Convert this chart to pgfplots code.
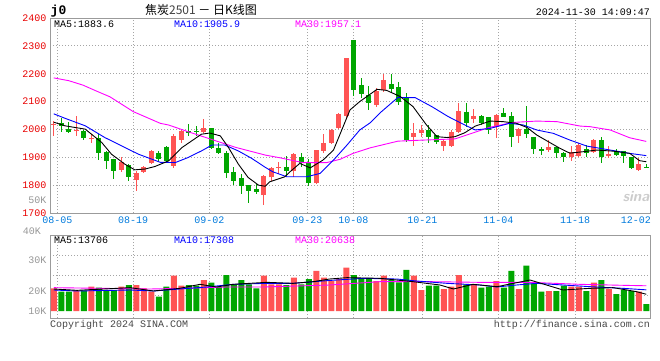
\documentclass[border=0pt]{standalone}
\usepackage{pgfplots}
\pgfplotsset{compat=1.18}
\usepackage{pgfplotstable}
\usepackage{fontspec}
\setmainfont{Liberation Sans}
\setmonofont{Liberation Mono}
\newfontfamily\cjk{Noto Sans CJK SC}

\definecolor{cup}{RGB}{255,84,84}
\definecolor{cdn}{RGB}{0,166,0}
\definecolor{gridc}{RGB}{165,165,165}
\definecolor{framec}{RGB}{155,155,155}
\definecolor{datec}{RGB}{0,122,220}
\definecolor{pricec}{RGB}{232,0,0}
\definecolor{volc}{RGB}{150,150,150}
\definecolor{magc}{RGB}{255,0,255}
\definecolor{footc}{RGB}{70,70,70}

% k = trading-day index, o h l c = open high low close, v = volume
\pgfplotstableread{
k o h l c v
0 2016 2031 1977 2020 18544
3 1993 2049 1977 1997 16635
5 1966 1983 1953 1970 19907
9 1855 1900 1846 1884 19907
11 1819 1852 1780 1843 21271
12 1848 1867 1846 1864 18544
13 1878 1927 1876 1923 15817
16 1870 1983 1860 1977 28906
17 1963 2001 1953 1995 20725
20 1989 2037 1987 2004 25361
28 1764 1838 1727 1833 28906
29 1828 1866 1816 1860 21816
30 1861 1884 1840 1865 21816
32 1852 1915 1830 1912 27270
35 1809 1926 1808 1925 32724
36 1924 1984 1917 1950 27270
37 1952 2000 1950 1998 24543
38 2006 2060 2004 2055 26179
39 2048 2256 2040 2255 35451
43 2088 2148 2082 2139 24543
44 2142 2198 2136 2177 28906
48 1974 2022 1940 1988 28906
49 1988 2016 1972 1998 17180
52 1940 1964 1924 1958 17998
53 1940 1998 1938 1992 19907
54 1992 2094 1986 2067 29452
56 2036 2072 2024 2048 21271
59 2007 2055 1968 2052 24543
62 1978 2004 1952 2000 17998
66 1926 1962 1920 1936 16362
69 1900 1940 1886 1920 19907
70 1904 1952 1900 1944 19907
72 1920 1964 1918 1962 23180
74 1906 1940 1896 1912 17998
78 1854 1896 1850 1876 15817
}\upT

\pgfplotstableread{
k o h l c v
1 2023 2040 1989 2013 15817
2 2001 2028 1987 1992 15817
4 1996 1997 1963 1968 16635
6 1968 1983 1891 1914 19089
7 1920 1921 1858 1888 17180
8 1894 1895 1822 1852 17180
10 1872 1876 1816 1828 21271
14 1917 1924 1882 1894 11726
15 1938 1939 1882 1888 19907
18 1995 2019 1977 1987 21271
19 1994 2011 1977 1990 20725
21 2004 2005 1930 1935 23180
22 1932 1953 1911 1917 19907
23 1917 1923 1825 1843 29452
24 1848 1864 1800 1816 21816
25 1824 1840 1768 1798 25361
26 1800 1801 1736 1780 21816
27 1786 1804 1768 1774 18544
31 1866 1905 1830 1852 21271
33 1902 1917 1866 1878 21816
34 1881 1893 1797 1809 26179
40 2321 2322 2120 2142 29452
41 2160 2186 2112 2126 26179
42 2124 2156 2070 2094 26179
45 2162 2198 2136 2145 25361
46 2151 2171 2088 2098 23452
47 2112 2130 1956 1962 33542
50 1998 2016 1950 1972 20725
51 1980 1981 1948 1956 20725
55 2064 2094 2010 2024 21816
57 2048 2052 2016 2024 19089
58 2043 2046 1982 1998 19907
60 2060 2076 2043 2046 19089
61 2048 2064 1938 1972 32724
63 2000 2084 1968 1984 37087
64 1972 1973 1912 1930 22634
65 1928 1938 1908 1924 15817
67 1936 1937 1896 1914 16362
68 1914 1920 1884 1900 20725
71 1928 1944 1902 1914 16362
73 1962 1974 1881 1902 25361
75 1924 1928 1904 1907 13908
76 1922 1924 1878 1904 17180
77 1900 1902 1859 1863 16362
79 1866 1876 1860 1860 5727
}\dnT

\newcommand{\mono}{\ttfamily\fontsize{10}{10}\selectfont}

\pgfplotsset{
  kbase/.style={
    scale only axis, width=600pt, xmin=-0.5, xmax=79.5,
    axis line style={draw=framec, line width=1pt},
    major tick length=0pt,
    xtick={0.47,10.6,20.74,33.83,39.94,49.14,59.27,69.5},
    grid=major,
    grid style={draw=gridc, line width=0.9pt, dash pattern=on 0.9pt off 2.1pt},
  },
  nomark/.style={only marks, mark=*, mark size=0pt, mark options={draw=none, fill=none}},
}

\begin{document}
\begin{tikzpicture}
\useasboundingbox (0,0) rectangle (660pt,360pt);

% ---------- price panel ----------
\begin{axis}[kbase, at={(50pt,147pt)}, anchor=south west, height=195pt,
  ymin=1700, ymax=2400,
  ytick={1700,1800,1900,2000,2100,2200,2300,2400},
  yticklabels={1700,1800,1900,2000,2100,2200,2300,2400},
  yticklabel style={font=\mono, text=pricec},
  xticklabels={08-05,08-19,09-02,09-23,10-08,10-21,11-04,11-18},
  xticklabel style={font=\mono, text=datec},
  extra x ticks={77.6}, extra x tick labels={12-02},
  extra x tick style={grid=none}]
% wicks
\addplot[nomark, error bars/.cd, y dir=both, y explicit, error mark=none,
  error bar style={draw=cup, line width=1pt}]
  table[x=k, y=o, y error plus expr=\thisrow{h}-\thisrow{o}, y error minus expr=\thisrow{o}-\thisrow{l}] \upT;
\addplot[nomark, error bars/.cd, y dir=both, y explicit, error mark=none,
  error bar style={draw=cdn, line width=1pt}]
  table[x=k, y=o, y error plus expr=\thisrow{h}-\thisrow{o}, y error minus expr=\thisrow{o}-\thisrow{l}] \dnT;
% bodies
\addplot[nomark, error bars/.cd, y dir=plus, y explicit, error mark=none,
  error bar style={draw=cup, line width=5.2pt}]
  table[x=k, y=o, y error plus expr=\thisrow{c}-\thisrow{o}] \upT;
\addplot[nomark, error bars/.cd, y dir=minus, y explicit, error mark=none,
  error bar style={draw=cdn, line width=5.2pt}]
  table[x=k, y=o, y error minus expr=\thisrow{o}-\thisrow{c}] \dnT;
% MA30
\addplot[magc, line width=0.9pt, mark=none] coordinates {
(0,2185) (2,2175) (3.9,2159) (5.5,2140) (7.5,2117) (10.6,2064) (14.2,2022) (15.3,2016)
(17.9,1992) (20.6,1968) (24.2,1936) (28.2,1908) (30.2,1898) (33.2,1881) (36.4,1881)
(38.2,1893) (39.9,1914) (42.2,1934) (45.9,1958) (49.5,1962) (53.5,1966) (55.5,1984)
(58.2,2008) (61.2,2025) (64.4,2030) (67.1,2028) (70.2,2012) (71.5,2010) (74.2,1998)
(76.8,1970) (79,1957)};
% MA10
\addplot[blue, line width=0.9pt, mark=none] coordinates {
(0,2056) (1.5,2040) (4.2,2013) (6.8,1971) (9.5,1935) (11.3,1911) (13.1,1893) (14.2,1882)
(16.2,1881) (17.9,1899) (19.7,1923) (21.1,1944) (22.8,1944) (24.6,1923) (26.4,1896)
(28.2,1864) (29.2,1848) (31.1,1830) (33.7,1830) (35.5,1842) (37.3,1890) (39.1,1944)
(40.8,1998) (42.2,2024) (43.7,2064) (45.9,2115) (48.2,2114) (50.4,2082) (52.6,2046)
(54.8,2016) (56.2,1998) (58.2,2004) (60.8,2022) (62.6,2016) (64.4,1998) (66.6,1986)
(68.8,1962) (71.1,1940) (74.2,1926) (76.8,1914) (79,1906)};
% MA5
\addplot[black, line width=0.9pt, mark=none] coordinates {
(0,2026) (1.5,2013) (4.2,2001) (6.4,1953) (7.7,1911) (9.5,1875) (10.8,1855) (12.2,1858)
(13.5,1867) (15.3,1887) (17.1,1935) (18.4,1959) (19.7,1983) (20.8,1987) (22.2,1977)
(23.3,1935) (24.6,1876) (25.9,1828) (27.3,1800) (28.2,1796) (28.8,1812) (30.8,1830)
(31.5,1848) (32.8,1878) (34.2,1862) (35.9,1890) (37.3,1926) (38.4,1998) (39.5,2070)
(40.8,2100) (43.1,2144) (44.4,2140) (46.2,2118) (47.9,2082) (49.7,2016) (51.1,1974)
(52.4,1971) (53.5,1974) (54.8,1988) (56.2,2012) (58.2,2030) (59.9,2028) (61.7,2022)
(63.1,2007) (64.4,1980) (66.2,1952) (67.5,1932) (68.8,1915) (70.6,1920) (72.4,1926)
(74.6,1922) (76.8,1914) (78.1,1888) (79,1884)};
\end{axis}

% ---------- volume panel ----------
\begin{axis}[kbase, at={(50pt,42pt)}, anchor=south west, height=83pt,
  ymin=-5726, ymax=62168, scaled y ticks=false,
  xticklabels={},
  ytick={13088,29039,45235}, yticklabels={},
  extra y ticks={0,16600,41700}, extra y tick labels={10K,20K,30K},
  extra y tick style={grid=none},
  yticklabel style={font=\mono, text=volc}]
\addplot[ybar, bar width=6pt, bar shift=0pt, fill=cup, draw=none] table[x=k, y=v] \upT;
\addplot[ybar, bar width=6pt, bar shift=0pt, fill=cdn, draw=none] table[x=k, y=v] \dnT;
% MA30
\addplot[magc, line width=0.9pt, mark=none] coordinates {
(0,19089) (12.8,17998) (17.3,18544) (23.1,19634) (27.9,19634) (36.8,21271) (43.5,23998)
(50.2,23998) (56.8,23452) (63.5,23452) (70.2,21816) (76.8,20900) (79,20638)};
% MA10
\addplot[blue, line width=0.9pt, mark=none] coordinates {
(0,17180) (3.1,16362) (10.2,17180) (13.3,16362) (16.8,17998) (20.4,19634) (23.9,21816)
(28.4,22634) (31.9,22634) (36.8,25000) (41.3,26724) (45.7,26179) (48.4,24543)
(52.4,22634) (56.8,21271) (59.1,19634) (61.7,21271) (64.4,22634) (67.9,21271)
(71.5,19907) (75.9,18544) (79,17308)};
% MA5
\addplot[black, line width=0.9pt, mark=none] coordinates {
(0,18000) (3.1,16907) (10.2,19089) (13.3,16362) (16.8,18544) (19.5,21816) (21.7,19634)
(23.9,21816) (28.4,23452) (31.9,22634) (34.6,23998) (36.8,26179) (39.1,27270)
(43.5,26724) (47.9,23998) (51.5,21271) (53.3,17998) (55.9,21816) (59.1,19907)
(63.5,25361) (67.9,17180) (71.5,18544) (74.6,19089) (77.7,15817) (79,13706)};
\end{axis}

% ---------- texts ----------
\node[anchor=west, inner sep=0pt, font=\ttfamily\bfseries\fontsize{13}{13}\selectfont] at (50.5pt,349pt) {j0};
\node[inner sep=0pt, font=\cjk\fontsize{12}{12}\selectfont] at (201pt,350pt) {焦炭{\color{darkgray}2501} － 日K线图};
\node[anchor=east, inner sep=0pt, font=\mono] at (650pt,348pt) {2024-11-30 14:09:47};
\node[anchor=west, inner sep=0pt, font=\mono, text=black] at (54pt,336pt) {MA5:1883.6};
\node[anchor=west, inner sep=0pt, font=\mono, text=blue] at (174pt,336pt) {MA10:1905.9};
\node[anchor=west, inner sep=0pt, font=\mono, text=magc] at (295pt,336pt) {MA30:1957.1};
\node[anchor=west, inner sep=0pt, font=\mono, text=black] at (54pt,120pt) {MA5:13706};
\node[anchor=west, inner sep=0pt, font=\mono, text=blue] at (174pt,120pt) {MA10:17308};
\node[anchor=west, inner sep=0pt, font=\mono, text=magc] at (295pt,120pt) {MA30:20638};
\node[anchor=east, inner sep=0pt, font=\mono, text=volc] at (46.5pt,160pt) {50K};
\node[anchor=east, inner sep=0pt, font=\mono, text=volc] at (41pt,129pt) {40K};
\node[anchor=west, inner sep=0pt, font=\mono, text=footc] at (50pt,35.5pt) {Copyright 2024 SINA.COM};
\node[anchor=east, inner sep=0pt, font=\mono, text=footc] at (650pt,35.5pt) {http://finance.sina.com.cn};
\node[inner sep=0pt, font=\sffamily\bfseries\itshape\fontsize{15}{15}\selectfont, text=black!20] at (636pt,163pt) {sina};
\end{tikzpicture}
\end{document}
